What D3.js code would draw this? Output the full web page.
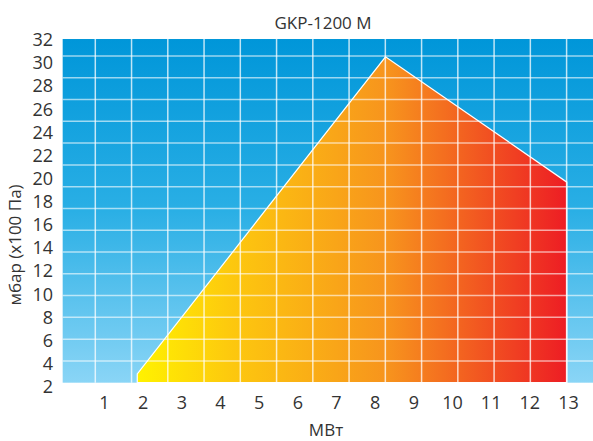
<!DOCTYPE html>
<html>
<head>
<meta charset="utf-8">
<script src="https://cdn.jsdelivr.net/npm/d3@7"></script>
<style>
    body { margin: 0; background: #fff; }
    text { font-family: 'Open Sans', sans-serif; fill: #333; }
</style>
</head>
<body>
<div id="chart"></div>
<script>
// tick labels
const xTicks = [1, 2, 3, 4, 5, 6, 7, 8, 9, 10, 11, 12, 13];
const yTicks = [2, 4, 6, 8, 10, 12, 14, 16, 18, 20, 22, 24, 26, 28, 30, 32];

// working field outline (MW, mbar)
const fieldMW = [1.86, 1.86, 8.28, 12.97, 12.97];
const fieldMbar = [2.35, 3.1, 30.55, 19.7, 2.35];

// grid cells of the background (columns and rows)
const gridCols = d3.range(0, 14);
const gridRows = d3.range(0, 16);

const width = 593, height = 441;

// value scales (follow the tick labels)
const x = d3.scaleLinear().domain([1, 13]).range([104, 568]);
const y = d3.scaleLinear().domain([2, 32]).range([386.7, 40]);

// grid scales (the white lines of the background)
const gx = d3.scaleLinear().domain([0, 13]).range([95.3, 566.6]);
const gy = d3.scaleLinear().domain([0, 15]).range([382.7, 56]);

const svg = d3.select('#chart').append('svg')
    .attr('width', width)
    .attr('height', height);

const defs = svg.append('defs');

// blue background gradient
const bg = defs.append('linearGradient')
    .attr('id', 'bg')
    .attr('x1', 0).attr('y1', 0).attr('x2', 0).attr('y2', 1);
bg.append('stop').attr('offset', 0).attr('stop-color', '#0096d9');
bg.append('stop').attr('offset', 0.5).attr('stop-color', '#2aafe5');
bg.append('stop').attr('offset', 1).attr('stop-color', '#8ad5f6');

// yellow -> red gradient of the field
const fg = defs.append('linearGradient')
    .attr('id', 'fg')
    .attr('gradientUnits', 'userSpaceOnUse')
    .attr('x1', x(fieldMW[0])).attr('x2', x(13))
    .attr('y1', 0).attr('y2', 0);
fg.append('stop').attr('offset', 0).attr('stop-color', '#fff200');
fg.append('stop').attr('offset', 0.22).attr('stop-color', '#fdc80e');
fg.append('stop').attr('offset', 0.58).attr('stop-color', '#f7941d');
fg.append('stop').attr('offset', 1).attr('stop-color', '#ed1c24');

// plot area
const plotLeft = gx(-0.9), plotRight = gx(13.73), plotTop = gy(15.78), plotBottom = gy(0);
svg.append('rect')
    .attr('x', plotLeft)
    .attr('y', plotTop)
    .attr('width', plotRight - plotLeft)
    .attr('height', plotBottom - plotTop)
    .attr('fill', 'url(#bg)');

// field polygon
const pts = fieldMW.map((d, i) => [x(d), y(fieldMbar[i])]);
svg.append('path')
    .attr('d', d3.line()(pts) + 'Z')
    .attr('fill', 'url(#fg)')
    .attr('stroke', '#fff')
    .attr('stroke-width', 1.2)
    .attr('stroke-linejoin', 'miter');

// grid lines
svg.append('g')
    .selectAll('line')
    .data(gridCols)
    .join('line')
    .attr('x1', d => gx(d)).attr('x2', d => gx(d))
    .attr('y1', plotTop).attr('y2', plotBottom)
    .attr('stroke', '#fff')
    .attr('stroke-opacity', 0.75)
    .attr('stroke-width', 1.5);

svg.append('g')
    .selectAll('line')
    .data(gridRows.slice(1))
    .join('line')
    .attr('x1', plotLeft).attr('x2', plotRight)
    .attr('y1', d => gy(d)).attr('y2', d => gy(d))
    .attr('stroke', '#fff')
    .attr('stroke-opacity', 0.6)
    .attr('stroke-width', 1.5);

// y tick labels
svg.append('g')
    .attr('transform', 'translate(53, 0)')
    .call(d3.axisLeft(y).tickValues(yTicks).tickSize(0).tickPadding(0))
    .call(g => g.select('.domain').remove())
    .call(g => g.selectAll('text')
        .attr('font-size', 18)
        .attr('font-family', "'Open Sans', sans-serif")
        .attr('fill', '#333'));

// x tick labels
svg.append('g')
    .attr('transform', 'translate(0, 396)')
    .call(d3.axisBottom(x).tickValues(xTicks).tickSize(0).tickPadding(0))
    .call(g => g.select('.domain').remove())
    .call(g => g.selectAll('text')
        .attr('font-size', 18)
        .attr('font-family', "'Open Sans', sans-serif")
        .attr('fill', '#333'));

// title
svg.append('text')
    .attr('x', 323)
    .attr('y', 29)
    .attr('text-anchor', 'middle')
    .attr('font-size', 17)
    .text('GKP-1200 M');

// axis titles
svg.append('text')
    .attr('x', 326)
    .attr('y', 436)
    .attr('text-anchor', 'middle')
    .attr('font-size', 17)
    .text('МВт');

svg.append('text')
    .attr('transform', 'translate(21, 245) rotate(-90)')
    .attr('text-anchor', 'middle')
    .attr('font-size', 17)
    .text('мбар (x100 Па)');
</script>
</body>
</html>
